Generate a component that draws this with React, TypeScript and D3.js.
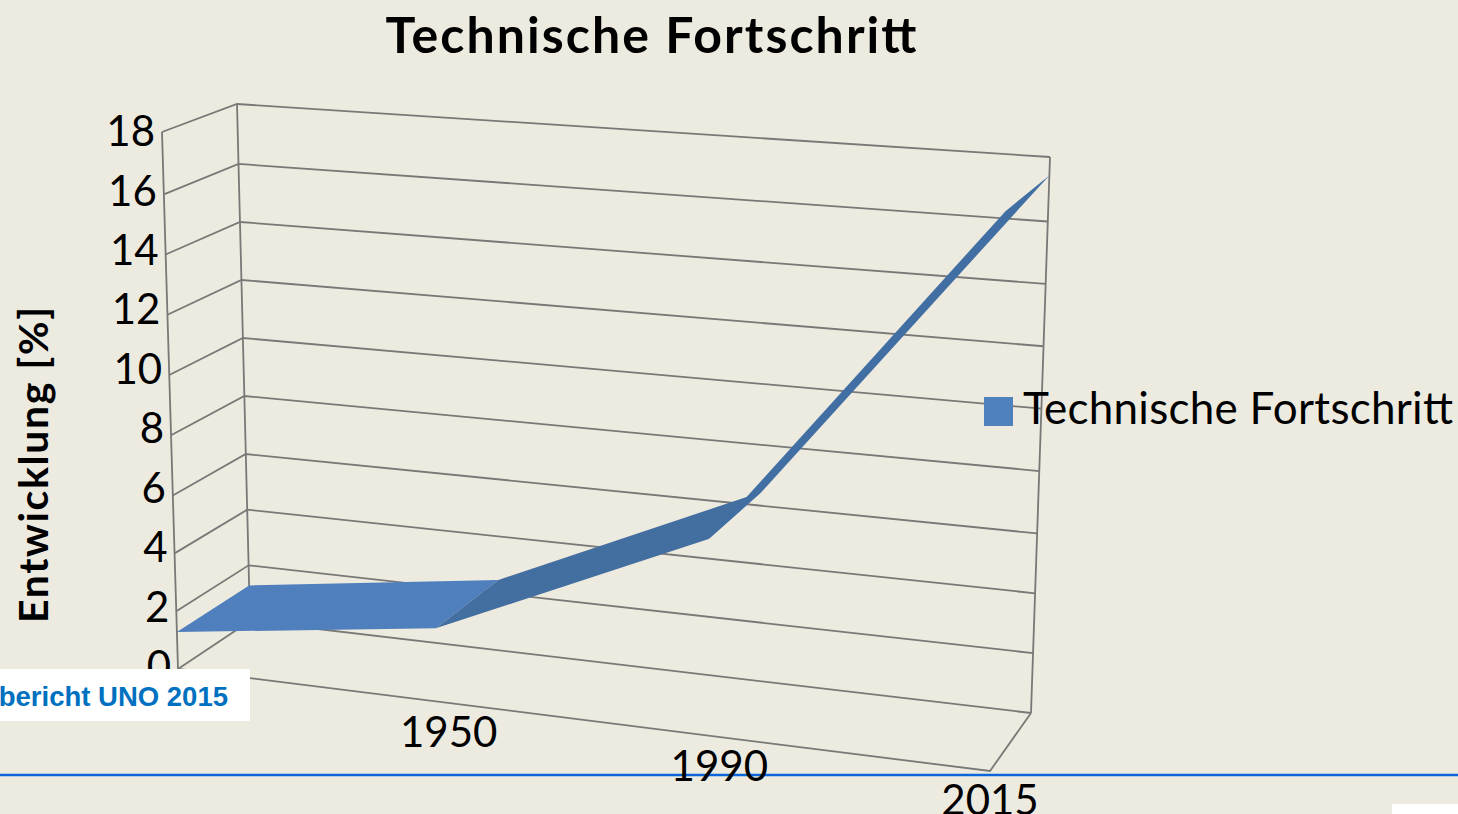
import React, { useEffect, useRef } from "react";
import * as d3 from "d3";

const categories = ["", "1950", "1990", "2015"];
const seriesName = "Technische Fortschritt";
const seriesValues = [1.28, 2.47, 6.45, 17.43];
const yTicks = [0, 2, 4, 6, 8, 10, 12, 14, 16, 18];

const W = 1458;
const H = 814;
const FONT = "Lato, Carlito, 'Open Sans', sans-serif";
const GRID = "#787876";

// the 3D box: the four upright edges, [x, y] at value 0 and at value 18
const frontLeft = [[178, 669], [162, 132]];
const frontRight = [[990, 771], [1006, 192]];
const backLeft = [[250, 621], [237, 104]];
const backRight = [[1031, 713], [1050, 157]];

// uprights are slightly compressed towards the bottom
const heightScale = d3.scaleLinear().domain([0, 6, 16, 18]).range([0, 0.323, 0.884, 1]);
const catScale = d3.scalePoint().domain(categories).range([0, 1]);
// foreshortening along the category axis
const warp = (t: number) => t / (t + 1.07 * (1 - t));
// tick labels are evenly spaced, the gridlines not quite
const labelY = d3.scaleLinear().domain([0, 18]).range([666, 131]);

function edgeAt(edge: number[][], v: number) {
  return d3.interpolateArray(edge[0], edge[1])(heightScale(v) as number) as number[];
}

function project(t: number, depth: number, v: number): [number, number] {
  const front = d3.interpolateArray(edgeAt(frontLeft, v), edgeAt(frontRight, v))(t) as number[];
  const back = d3.interpolateArray(edgeAt(backLeft, v), edgeAt(backRight, v))(t) as number[];
  return d3.interpolateArray(front, back)(depth) as [number, number];
}

export default function App() {
  const ref = useRef<SVGSVGElement>(null);

  useEffect(() => {
    const svg = d3.select(ref.current);
    svg.selectAll("*").remove();

    svg.append("rect").attr("width", W).attr("height", H).attr("fill", "#edebe0");

    const line = d3.line();
    const grid = svg.append("g").attr("fill", "none").attr("stroke", GRID).attr("stroke-width", 1.8);

    // walls: one line on the side wall and one on the back wall per tick
    yTicks.forEach((v) => {
      grid.append("path").attr("d", line([project(0, 0, v), project(0, 1, v), project(1, 1, v)]));
    });
    grid.append("path").attr("d", line([project(0, 0, 18), project(0, 0, 0), project(1, 0, 0), project(1, 1, 0)]));
    grid.append("path").attr("d", line([project(0, 1, 18), project(0, 1, 0)]));
    grid.append("path").attr("d", line([project(1, 1, 18), project(1, 1, 0)]));

    // area as a ribbon, each segment its own shade
    const shades = ["#4f7fbc", "#436ea0", "#426fa3"];
    d3.pairs(categories.map((c, i) => ({ t: warp(catScale(c) as number), v: seriesValues[i] }))).forEach(([a, b], i) => {
      svg.append("path")
        .attr("fill", shades[i])
        .attr("d", line([project(a.t, 0, a.v), project(b.t, 0, b.v), project(b.t, 1, b.v), project(a.t, 1, a.v)]) + "Z");
    });

    // value axis labels
    svg.append("g").selectAll("text").data(yTicks).join("text")
      .attr("x", (v) => project(0, 0, v)[0] - 7)
      .attr("y", (v) => labelY(v))
      .attr("dy", "0.36em")
      .attr("text-anchor", "end")
      .attr("font-family", FONT)
      .attr("font-size", 42)
      .attr("fill", "#000")
      .text((v) => v);

    // blue rule goes under the category labels, 1990 is printed over it
    svg.append("line").attr("x1", 0).attr("x2", W).attr("y1", 775).attr("y2", 775)
      .attr("stroke", "#0a66d8").attr("stroke-width", 2.5);

    // category labels sit under the un-warped floor position
    svg.append("g").selectAll("text").data(categories).join("text")
      .attr("x", (c) => project(catScale(c) as number, 0, 0)[0])
      .attr("y", (c) => project(catScale(c) as number, 0, 0)[1] + 44)
      .attr("text-anchor", "middle")
      .attr("font-family", FONT)
      .attr("font-size", 42)
      .attr("fill", "#000")
      .text((c) => c);

    svg.append("text")
      .attr("x", 651).attr("y", 53)
      .attr("text-anchor", "middle")
      .attr("font-family", FONT).attr("font-weight", 700).attr("font-size", 50)
      .attr("textLength", 531)
      .attr("fill", "#000")
      .text(seriesName);

    svg.append("text")
      .attr("transform", "translate(48,623) rotate(-90)")
      .attr("font-family", FONT).attr("font-weight", 700).attr("font-size", 41)
      .attr("textLength", 316)
      .attr("fill", "#000")
      .text("Entwicklung [%]");

    // legend
    svg.append("rect").attr("x", 984).attr("y", 397).attr("width", 29).attr("height", 29).attr("fill", "#4f81bd");
    svg.append("text")
      .attr("x", 1023).attr("y", 424)
      .attr("font-family", FONT).attr("font-size", 44)
      .attr("textLength", 430)
      .attr("fill", "#000")
      .text(seriesName);

    // slide furniture on top of the chart
    svg.append("rect").attr("x", 0).attr("y", 669).attr("width", 250).attr("height", 52).attr("fill", "#fff");
    svg.append("text")
      .attr("x", 228).attr("y", 706)
      .attr("text-anchor", "end")
      .attr("font-family", "'Liberation Sans', Arial, sans-serif").attr("font-weight", 700).attr("font-size", 27.5)
      .attr("fill", "#0070c0")
      .text("bericht UNO 2015");
    svg.append("rect").attr("x", 1392).attr("y", 804).attr("width", 66).attr("height", 10).attr("fill", "#fff");
  }, []);

  return <svg ref={ref} width={W} height={H} style={{ position: "fixed", left: 0, top: 0 }} />;
}
